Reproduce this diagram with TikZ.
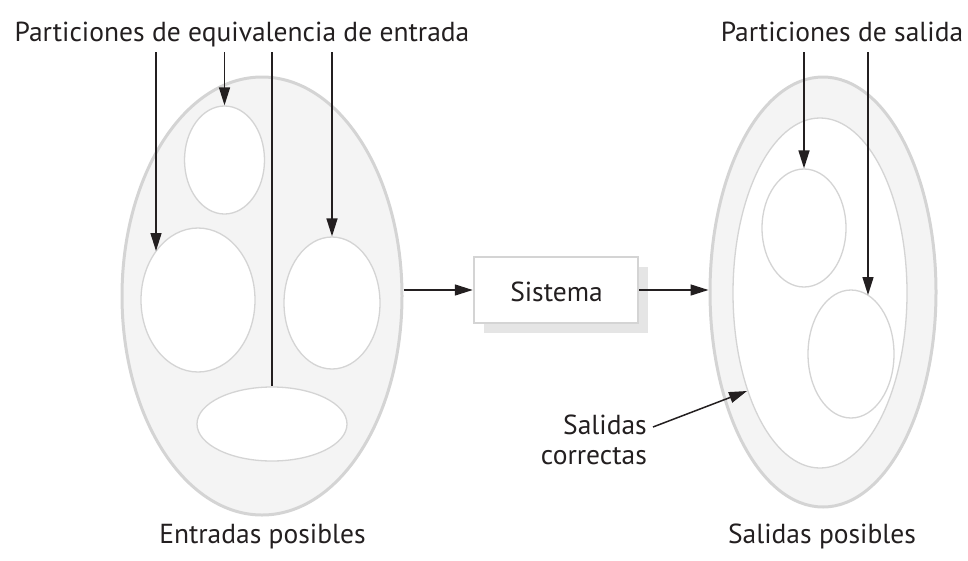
\documentclass[tikz,border=0pt]{standalone}
\usepackage{fontspec}
\setmainfont{PT Sans}
\usetikzlibrary{shapes.geometric,arrows.meta,shadows}
\definecolor{ink}{HTML}{231F20}
\definecolor{rim}{HTML}{D4D4D4}
\definecolor{pale}{HTML}{F4F4F4}
\tikzset{
  big/.style={ellipse,draw=rim,line width=3pt,fill=pale,inner sep=0pt},
  inner/.style={ellipse,draw=rim,line width=1.3pt,fill=white,inner sep=0pt},
  arr/.style={draw=ink,line width=1.5pt,-{Triangle[length=18pt,width=11pt]}},
  lbl/.style={font=\fontsize{27.5}{30}\selectfont,text=ink,inner sep=0pt},
  sysbox/.style={draw=rim,line width=2.5pt,fill=white,minimum width=164pt,minimum height=66pt,
    drop shadow={shadow xshift=10pt,shadow yshift=-10pt,fill=black!10,opacity=1}}
}
\begin{document}
\begin{tikzpicture}[x=1pt,y=-1pt]
\useasboundingbox (0,0) rectangle (968,560);
% left
\node[big,minimum width=280pt,minimum height=438pt] (L) at (262,296) {};
\node[inner,minimum width=80pt,minimum height=108pt] (L1) at (224.5,160) {};
\node[inner,minimum width=114pt,minimum height=144pt] (L2) at (198,300) {};
\node[inner,minimum width=96pt,minimum height=132pt] (L3) at (332,303) {};
\node[inner,minimum width=150pt,minimum height=74pt] (L4) at (272,424) {};
% right
\node[big,minimum width=226pt,minimum height=430pt] (R) at (823,292) {};
\node[ellipse,draw=rim,line width=1.3pt,fill=white,inner sep=0pt,minimum width=174pt,minimum height=350pt] (RC) at (820,293) {};
\node[inner,minimum width=84pt,minimum height=118pt] (R1) at (804,228) {};
\node[inner,minimum width=86pt,minimum height=128pt] (R2) at (851,354) {};
% system
\node[sysbox,minimum width=164pt,minimum height=66pt] (S) at (556,290) {};
\node[lbl,anchor=base] (ST) at (556.5,301) {Sistema};
% labels
\node[lbl,anchor=base] (T1) at (242,41) {Particiones de equivalencia de entrada};
\node[lbl,anchor=base] (T2) at (842,41) {Particiones de salida};
\node[lbl,anchor=base east] (T3a) at (647,434) {Salidas};
\node[lbl,anchor=base east] (T3b) at (647,464) {correctas};
\node[lbl,anchor=base] (T4) at (262.5,543) {Entradas posibles};
\node[lbl,anchor=base] (T5) at (822,543) {Salidas posibles};
% arrows
\coordinate (a1) at (156,52); \coordinate (b1) at (156,251);
\coordinate (a2) at (224.5,52);
\coordinate (a3) at (272,52);
\coordinate (a4) at (332,52);
\coordinate (a5) at (804,52);
\coordinate (a6) at (868,52); \coordinate (b6) at (868,295);
\coordinate (c7) at (653,427); \coordinate (b7) at (747,391);
\draw[arr] (a1) -- (b1);
\draw[arr] (a2) -- (L1.north);
\draw[draw=ink,line width=1.5pt] (a3) -- (a3 |- L4.north);
\draw[arr] (a4) -- (L3.north);
\draw[arr] (a5) -- (R1.north);
\draw[arr] (a6) -- (b6);
\draw[arr] (c7) -- (b7);
\draw[arr] (L.east |- S.west) -- (S.west);
\draw[arr] (S.east) -- (S.east -| R.west);
\end{tikzpicture}
\end{document}
